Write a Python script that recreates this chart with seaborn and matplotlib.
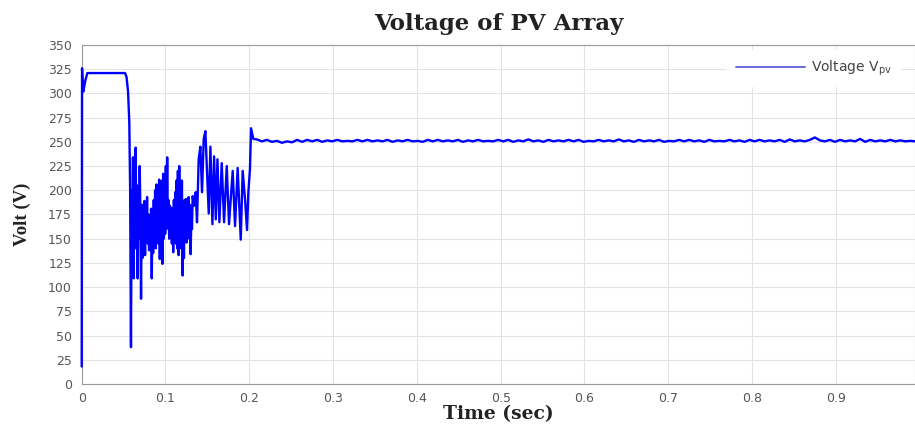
import numpy as np
import pandas as pd
import matplotlib
matplotlib.use("Agg")
import matplotlib.pyplot as plt
import seaborn as sns

# ---- data ----
# start-up and plateau
t_start = [0.0, 0.0004, 0.0008, 0.002, 0.004, 0.0067, 0.0517, 0.0535, 0.0553, 0.0568, 0.0578]
v_start = [18, 326, 318, 302, 312, 321, 321, 317, 302, 270, 200]

# dense oscillation, sampled every 0.8 ms from 0.0588 s
t_dense_start = 0.0588
t_dense_step = 0.0008
v_dense = [38, 200, 130, 234, 109, 215, 140, 244, 150, 205,
           109, 200, 150, 225, 180, 88, 185, 130, 175, 145,
           189, 133, 180, 150, 193, 145, 175, 138, 172, 140,
           181, 109, 178, 135, 190, 145, 200, 140, 206, 150,
           195, 145, 211, 129, 200, 150, 210, 124, 217, 150,
           205, 155, 225, 160, 234, 165, 190, 150, 184, 155,
           182, 145, 175, 136, 190, 150, 198, 145, 210, 140,
           220, 133, 225, 145, 205, 140, 210, 112, 185, 130,
           190, 150, 191, 146, 180, 155, 193, 150, 185, 134,
           170, 160]

# slower oscillation before the step at 0.2 s
t_mid = [0.1324, 0.1340, 0.1360, 0.1376, 0.1396, 0.1416, 0.1436, 0.1456, 0.1476, 0.1496,
         0.1516, 0.1536, 0.1560, 0.1580, 0.1600, 0.1620, 0.1643, 0.1671, 0.1699, 0.1731,
         0.1758, 0.1802, 0.1830, 0.1861, 0.1898, 0.1921, 0.1949, 0.1973, 0.1989, 0.2008,
         0.2021, 0.2048]
v_mid = [194, 184, 198, 167, 232, 245, 198, 253, 261, 218,
         176, 245, 165, 235, 170, 232, 167, 228, 167, 225,
         165, 220, 163, 223, 149, 220, 191, 159, 198, 222,
         264, 253]

# steady state, sampled every 6 ms from 0.209 s
t_steady_start = 0.209
t_steady_step = 0.006
v_steady = [252.5, 250.5, 252, 250, 251, 249, 250.5, 249.5, 252, 250, 252, 250.5,
            252, 250, 251.5, 250.5, 252, 250.5, 251, 250.5, 252, 250.5, 252, 250.5,
            251.5, 250.5, 252, 250, 251.5, 250.5, 252, 250.5, 251, 250, 252, 250.5,
            252, 250.5, 251.5, 250.5, 252, 250, 251.5, 250.5, 252, 250.5, 251, 250.5,
            252, 250.5, 252, 250, 251.5, 250.5, 252.5, 250.5, 251.5, 250, 252, 250.5,
            251.5, 250.5, 252, 250.5, 252, 250, 251, 250.5, 252, 250.5, 251.5, 250.5,
            252.5, 250.5, 251.5, 250, 252, 250.5, 251.5, 250.5, 252, 250, 251, 250.5,
            252, 250.5, 252, 250.5, 251.5, 250, 252, 250.5, 251, 250.5, 252, 250.5,
            251.5, 250, 252, 250.5, 252, 250.5, 251.5, 250.5, 252, 250, 252.5, 250.5,
            251.5, 250.5, 252, 254.5, 251.5, 250.5, 252, 250, 252, 250.5, 251.5, 250.5,
            253, 250, 252, 250.5, 251.5, 250.5, 252, 250.5, 251.5, 250.5, 251, 250.5]

x_ticks = [0, 0.1, 0.2, 0.3, 0.4, 0.5, 0.6, 0.7, 0.8, 0.9]
x_ticklabels = ["0", "0.1", "0.2", "0.3", "0.4", "0.5", "0.6", "0.7", "0.8", "0.9"]
y_ticks = list(range(0, 351, 25))

title = "Voltage of PV Array"
xlabel = "Time (sec)"
ylabel = "Volt (V)"
legend_label = "Voltage V$_{\\mathregular{pv}}$"

# ---- build frame ----
t_dense = t_dense_start + t_dense_step * np.arange(len(v_dense))
t_steady = t_steady_start + t_steady_step * np.arange(len(v_steady))
df = pd.DataFrame({
    "t": np.concatenate([t_start, t_dense, t_mid, t_steady]),
    "v": np.concatenate([v_start, v_dense, v_mid, v_steady]),
})

sns.set_theme(style="white")
plt.rcParams["font.family"] = ["DejaVu Sans"]

fig = plt.figure(figsize=(9.15, 4.25), dpi=100)
ax = fig.add_axes([0.0893, 0.0965, 0.9107, 0.7977])

sns.lineplot(data=df, x="t", y="v", ax=ax, color="#0000FF", linewidth=1.7,
             label=legend_label, sort=False, estimator=None)
for ln in ax.get_lines():
    ln.set_clip_on(False)
    ln.set_zorder(4)

ax.set_xlim(0, 0.9945)
ax.set_ylim(0, 350)
ax.set_xticks(x_ticks)
ax.set_xticklabels(x_ticklabels)
ax.set_yticks(y_ticks)
ax.grid(True, color="#e3e3e3", linewidth=0.8)
ax.set_axisbelow(True)
ax.tick_params(axis="both", direction="in", length=4, width=0.7, colors="#777777",
               labelcolor="#555555", labelsize=9)
ax.tick_params(axis="y", pad=7)
ax.tick_params(axis="x", pad=6)
for s in ax.spines.values():
    s.set_color("#999999")
    s.set_linewidth(0.8)

ax.set_title(title, fontfamily="DejaVu Serif", fontweight="bold", fontsize=16.5, pad=11, color="#222222")
ax.set_xlabel(xlabel, fontfamily="DejaVu Serif", fontweight="bold", fontsize=13.5, labelpad=0, color="#222222")
ax.set_ylabel(ylabel, fontfamily="Liberation Serif", fontweight="bold", fontsize=13.5, labelpad=12, color="#222222")

leg = ax.legend(loc="upper right", bbox_to_anchor=(0.99, 1.005), frameon=True, fontsize=10,
                handlelength=5.0, handletextpad=0.4, borderpad=0.6, edgecolor="white",
                facecolor="white", framealpha=1)
for txt in leg.get_texts():
    txt.set_color("#444444")
for ln in leg.get_lines():
    ln.set_color("#6a6adf")
    ln.set_linewidth(1.4)

fig.savefig("out.png", dpi=100)
